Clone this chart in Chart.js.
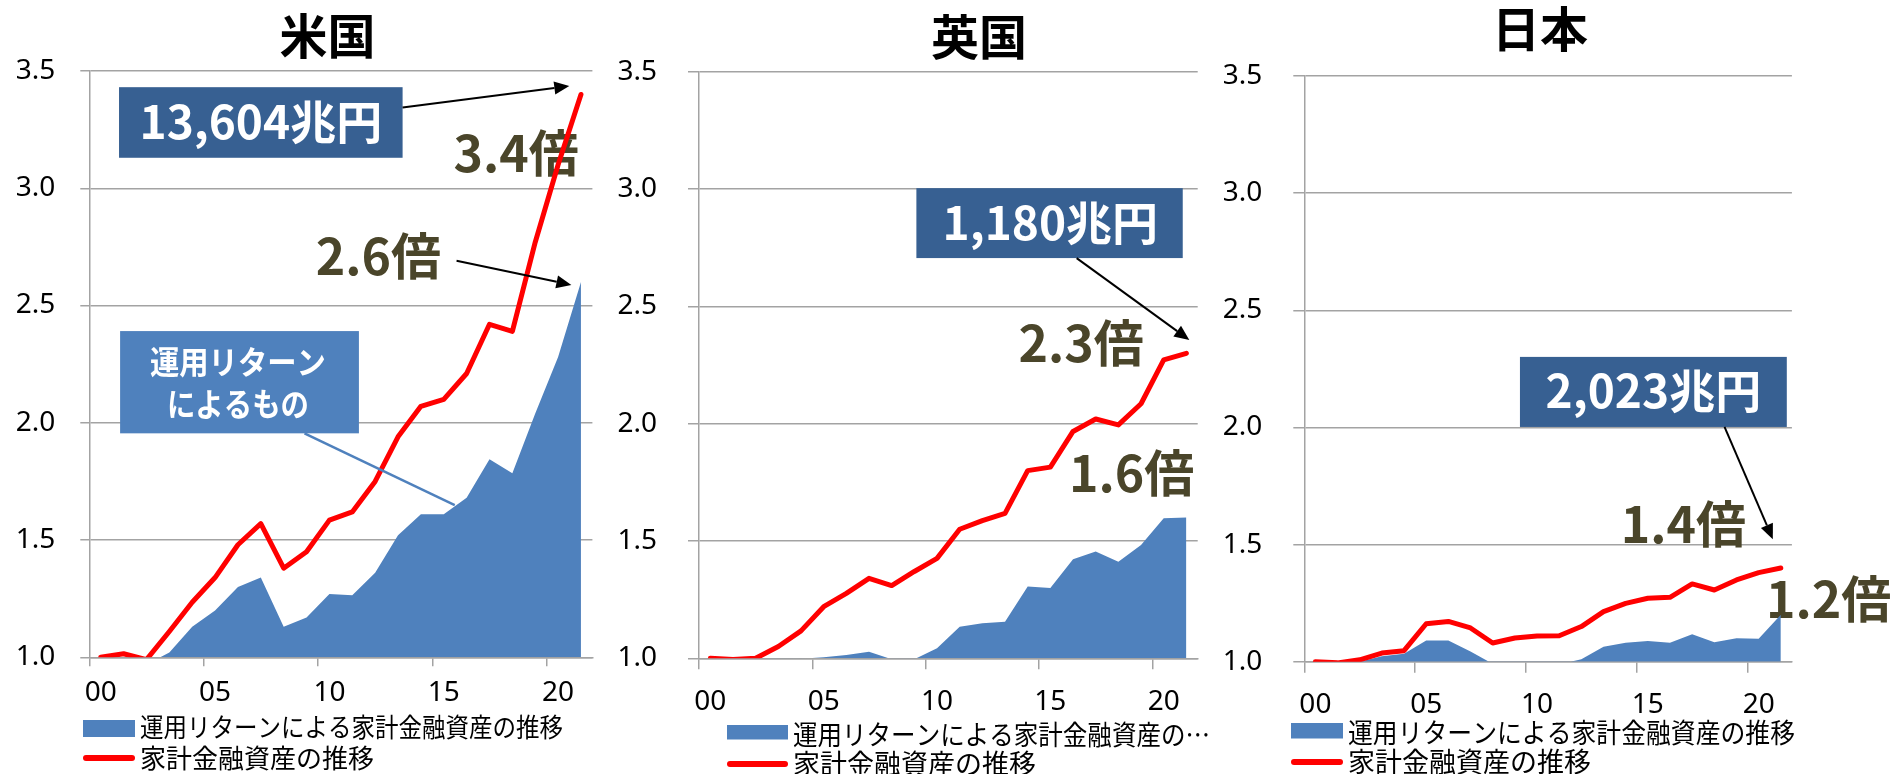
<!DOCTYPE html>
<html lang="ja">
<head>
<meta charset="utf-8">
<title>家計金融資産の推移（米国・英国・日本）</title>
<script src="https://cdn.jsdelivr.net/npm/chart.js@4.4.1/dist/chart.umd.min.js"></script>
<style>
  html, body { margin: 0; padding: 0; background: #fff; }
  #wrap { position: relative; width: 1893px; height: 774px; overflow: hidden; background: #fff; }
  #wrap canvas { position: absolute; left: 0; top: 0; }
</style>
</head>
<body>
<div id="wrap">
  <canvas id="us" width="1893" height="774"></canvas>
  <canvas id="uk" width="1893" height="774"></canvas>
  <canvas id="jp" width="1893" height="774"></canvas>
</div>
<script>
// ---- data (2000年 = 1.0) ----
const years = ['00','01','02','03','04','05','06','07','08','09','10',
               '11','12','13','14','15','16','17','18','19','20','21'];
const xTickLabels = ['00','05','10','15','20'];
const yTickValues = [1.0, 1.5, 2.0, 2.5, 3.0, 3.5];

const seriesNames = ['運用リターンによる家計金融資産の推移', '家計金融資産の推移'];
const countryNames = ['米国', '英国', '日本'];
const assetLabels = ['13,604兆円', '1,180兆円', '2,023兆円'];
const returnNote = ['運用リターン', 'によるもの'];

const usReturn = [1.00, 1.00, 0.97, 1.02, 1.13, 1.20, 1.30, 1.34, 1.13, 1.17, 1.27,
                  1.265, 1.36, 1.52, 1.61, 1.61, 1.68, 1.845, 1.785, 2.04, 2.28, 2.60];
const usTotal  = [1.00, 1.015, 0.99, 1.11, 1.235, 1.34, 1.48, 1.57, 1.38, 1.45, 1.585,
                  1.62, 1.75, 1.94, 2.07, 2.10, 2.21, 2.42, 2.39, 2.77, 3.10, 3.40];

const ukReturn = [1.00, 0.995, 0.995, 0.997, 0.998, 1.005, 1.014, 1.028, 0.996, 0.996, 1.043,
                  1.135, 1.149, 1.156, 1.306, 1.30, 1.422, 1.455, 1.412, 1.483, 1.597, 1.60];
const ukTotal  = [1.00, 0.995, 1.00, 1.05, 1.117, 1.22, 1.277, 1.341, 1.31, 1.37, 1.426,
                  1.55, 1.587, 1.618, 1.80, 1.815, 1.967, 2.02, 1.995, 2.085, 2.272, 2.30];

const jpReturn = [1.00, 0.995, 1.00, 1.023, 1.034, 1.09, 1.09, 1.044, 0.991, 0.989, 0.993,
                  0.989, 1.01, 1.064, 1.081, 1.088, 1.081, 1.117, 1.083, 1.10, 1.098, 1.20];
const jpTotal  = [1.00, 0.995, 1.008, 1.037, 1.047, 1.162, 1.172, 1.144, 1.08, 1.101, 1.11,
                  1.111, 1.15, 1.214, 1.249, 1.271, 1.275, 1.332, 1.306, 1.349, 1.38, 1.40];

// ---- styles ----
const GRID = '#a3a3a3';
const BLUE = '#4f81bd';
const RED = '#ff0000';
const NAVY = '#376092';
const OLIVE = '#4a452a';
const CJK = '"Noto Sans CJK JP", "Noto Sans", sans-serif';
const LATIN = '"Noto Sans", "Noto Sans CJK JP", sans-serif';
const PAGE_W = 1893, PAGE_H = 774;
const Y_AXIS_W = 86, X_AXIS_H = 60;

// ratio of the final year to 2000, as printed next to each series
const multiple = arr => arr[arr.length - 1].toFixed(1) + '倍';

// ---- drawing helpers for titles, callouts, arrows and the legend ----
function drawItems(chart, items) {
  const { ctx } = chart;
  const xs = chart.scales.x, ys = chart.scales.y;
  const X = v => xs.getPixelForValue(v);
  const Y = v => ys.getPixelForValue(v);
  ctx.save();
  for (const it of items) {
    if (it.type === 'box') {
      ctx.fillStyle = it.color;
      ctx.fillRect(X(it.x0), Y(it.y0), X(it.x1) - X(it.x0), Y(it.y1) - Y(it.y0));
    } else if (it.type === 'text') {
      ctx.font = `${it.bold ? 'bold ' : ''}${it.size}px ${it.family || CJK}`;
      ctx.fillStyle = it.color;
      ctx.textAlign = it.align || 'center';
      ctx.textBaseline = 'alphabetic';
      if (it.maxWidth) ctx.fillText(it.text, X(it.x), Y(it.y), it.maxWidth);
      else ctx.fillText(it.text, X(it.x), Y(it.y));
    } else if (it.type === 'line' || it.type === 'arrow') {
      const x1 = X(it.x0), y1 = Y(it.y0), x2 = X(it.x1), y2 = Y(it.y1);
      ctx.strokeStyle = it.color;
      ctx.fillStyle = it.color;
      ctx.lineWidth = it.width;
      ctx.lineCap = 'butt';
      let ex = x2, ey = y2;
      const ang = Math.atan2(y2 - y1, x2 - x1);
      if (it.type === 'arrow') {
        const hl = 15, hw = 6.5;
        ex = x2 - hl * Math.cos(ang);
        ey = y2 - hl * Math.sin(ang);
        ctx.beginPath();
        ctx.moveTo(x2, y2);
        ctx.lineTo(ex + hw * Math.sin(ang), ey - hw * Math.cos(ang));
        ctx.lineTo(ex - hw * Math.sin(ang), ey + hw * Math.cos(ang));
        ctx.closePath();
        ctx.fill();
      }
      ctx.beginPath();
      ctx.moveTo(x1, y1);
      ctx.lineTo(ex, ey);
      ctx.stroke();
    }
  }
  ctx.restore();
}

function drawLegend(chart, lg) {
  const { ctx } = chart;
  const [area, line] = chart.data.datasets;
  ctx.save();
  ctx.fillStyle = area.backgroundColor;
  ctx.fillRect(lg.swX, lg.swY, lg.swW, lg.swH);
  ctx.strokeStyle = line.borderColor;
  ctx.lineWidth = 6;
  ctx.lineCap = 'round';
  ctx.beginPath();
  ctx.moveTo(lg.swX + 3, lg.row2);
  ctx.lineTo(lg.swX + lg.swW - 3, lg.row2);
  ctx.stroke();
  ctx.font = `${lg.size}px ${CJK}`;
  ctx.fillStyle = '#000';
  ctx.textAlign = 'left';
  ctx.textBaseline = 'alphabetic';
  const first = lg.truncate ? area.label.slice(0, lg.truncate) + '…' : area.label;
  ctx.fillText(first, lg.textX, lg.row1 + 0.38 * lg.size, lg.maxWidth);
  ctx.fillText(line.label, lg.textX, lg.row2 + 0.38 * lg.size);
  ctx.restore();
}

function notesPlugin(panel) {
  return {
    id: 'notes_' + panel.id,
    beforeDatasetsDraw(chart) { drawItems(chart, panel.notes.filter(n => n.layer === 'under')); },
    afterDraw(chart) {
      drawItems(chart, panel.notes.filter(n => n.layer !== 'under'));
      drawLegend(chart, panel.legend);
    }
  };
}

// ---- one panel per country ----
function makeChart(panel) {
  const a = panel.area;
  const xGridColor = ctx =>
    (ctx.index !== undefined && ctx.index < years.length && ctx.index % 5 === 0) ? GRID : 'rgba(0,0,0,0)';
  return new Chart(document.getElementById(panel.id), {
    type: 'line',
    data: {
      labels: years,
      datasets: [
        {
          label: seriesNames[0],
          data: panel.returnData,
          fill: 'origin',
          backgroundColor: BLUE,
          borderColor: 'rgba(0,0,0,0)',
          borderWidth: 0,
          pointRadius: 0,
          tension: 0,
          order: 1
        },
        {
          label: seriesNames[1],
          data: panel.totalData,
          fill: false,
          borderColor: RED,
          borderWidth: 5,
          borderJoinStyle: 'round',
          borderCapStyle: 'round',
          pointRadius: 0,
          tension: 0,
          order: 0
        }
      ]
    },
    options: {
      responsive: false,
      maintainAspectRatio: false,
      devicePixelRatio: 1,
      animation: false,
      events: [],
      layout: {
        padding: {
          left: a.left - Y_AXIS_W,
          right: PAGE_W - a.right,
          top: a.top,
          bottom: PAGE_H - a.bottom - X_AXIS_H
        }
      },
      plugins: { legend: { display: false }, tooltip: { enabled: false }, title: { display: false } },
      scales: {
        x: {
          type: 'category',
          offset: true,
          grid: {
            offset: true,
            drawOnChartArea: false,
            drawTicks: true,
            tickLength: panel.tick,
            lineWidth: 1.5,
            color: xGridColor
          },
          border: { display: true, color: GRID, width: 1.5 },
          ticks: {
            autoSkip: false,
            maxRotation: 0,
            minRotation: 0,
            padding: panel.xPad,
            color: '#000',
            font: { family: LATIN, size: 28 },
            callback: (v, i) => xTickLabels.includes(years[i]) ? years[i] : ''
          },
          afterFit: s => { s.height = X_AXIS_H; }
        },
        y: {
          type: 'linear',
          min: yTickValues[0],
          max: yTickValues[yTickValues.length - 1],
          afterBuildTicks: s => { s.ticks = yTickValues.map(v => ({ value: v })); },
          grid: { color: GRID, lineWidth: 1.5, drawTicks: true, tickLength: panel.tick },
          border: { display: true, color: GRID, width: 1.5 },
          ticks: {
            padding: panel.yPad,
            color: '#000',
            font: { family: LATIN, size: 28 },
            callback: v => Number(v).toFixed(1)
          },
          afterFit: s => { s.width = Y_AXIS_W; }
        }
      }
    },
    plugins: [notesPlugin(panel)]
  });
}

// callout positions are given in chart units: x = year index, y = ratio
const panels = [
  {
    id: 'us', returnData: usReturn, totalData: usTotal,
    area: { left: 89.3, right: 592.4, top: 71, bottom: 657.3 },
    tick: 9, yPad: 25, xPad: 10,
    legend: { swX: 83, swY: 720, swW: 52, swH: 17, textX: 140, row1: 727, row2: 758, size: 26, maxWidth: 423 },
    notes: [
      { type: 'text', text: countryNames[0], x: 9.92, y: 3.572, size: 48, bold: true, color: '#000' },
      { type: 'text', layer: 'under', text: multiple(usTotal), x: 18.16, y: 3.071, size: 50, bold: true, color: OLIVE },
      { type: 'text', layer: 'under', text: multiple(usReturn), x: 12.14, y: 2.630, size: 50, bold: true, color: OLIVE },
      { type: 'box', x0: 0.80, x1: 13.20, y0: 3.431, y1: 3.130, color: NAVY },
      { type: 'text', text: assetLabels[0], x: 7.0, y: 3.209, size: 46, bold: true, color: '#fff' },
      { type: 'arrow', x0: 13.20, y0: 3.344, x1: 20.49, y1: 3.436, width: 2, color: '#000' },
      { type: 'arrow', x0: 15.56, y0: 2.691, x1: 20.58, y1: 2.588, width: 2, color: '#000' },
      { type: 'line', x0: 8.91, y0: 1.955, x1: 15.48, y1: 1.649, width: 2.5, color: BLUE },
      { type: 'box', x0: 0.847, x1: 11.29, y0: 2.391, y1: 1.955, color: BLUE },
      { type: 'text', text: returnNote[0], x: 6.0, y: 2.209, size: 32, bold: true, color: '#fff', maxWidth: 176 },
      { type: 'text', text: returnNote[1], x: 6.0, y: 2.028, size: 32, bold: true, color: '#fff', maxWidth: 142 }
    ]
  },
  {
    id: 'uk', returnData: ukReturn, totalData: ukTotal,
    area: { left: 699, right: 1197.7, top: 71.8, bottom: 658.3 },
    tick: 11, yPad: 31, xPad: 16,
    legend: { swX: 727, swY: 725, swW: 61, swH: 14.5, textX: 793, row1: 735, row2: 764, size: 27, maxWidth: 417, truncate: 16 },
    notes: [
      { type: 'text', text: countryNames[1], x: 11.85, y: 3.570, size: 48, bold: true, color: '#000' },
      { type: 'text', layer: 'under', text: multiple(ukTotal), x: 16.36, y: 2.265, size: 50, bold: true, color: OLIVE },
      { type: 'text', layer: 'under', text: multiple(ukReturn), x: 18.59, y: 1.710, size: 50, bold: true, color: OLIVE },
      { type: 'box', x0: 9.09, x1: 20.84, y0: 3.004, y1: 2.706, color: NAVY },
      { type: 'text', text: assetLabels[1], x: 15.0, y: 2.784, size: 46, bold: true, color: '#fff' },
      { type: 'arrow', x0: 16.16, y0: 2.706, x1: 21.13, y1: 2.357, width: 2, color: '#000' }
    ]
  },
  {
    id: 'jp', returnData: jpReturn, totalData: jpTotal,
    area: { left: 1304.3, right: 1791.9, top: 76, bottom: 661.7 },
    tick: 11, yPad: 31, xPad: 16,
    legend: { swX: 1291, swY: 723, swW: 52, swH: 15.5, textX: 1348, row1: 732.5, row2: 762, size: 27, maxWidth: 447 },
    notes: [
      { type: 'text', text: countryNames[2], x: 10.13, y: 3.625, size: 48, bold: true, color: '#000' },
      { type: 'text', layer: 'under', text: multiple(jpTotal), x: 16.60, y: 1.506, size: 50, bold: true, color: OLIVE },
      { type: 'text', layer: 'under', text: multiple(jpReturn), x: 23.16, y: 1.185, size: 50, bold: true, color: OLIVE },
      { type: 'box', x0: 9.23, x1: 21.27, y0: 2.301, y1: 2.002, color: NAVY },
      { type: 'text', text: assetLabels[2], x: 15.25, y: 2.083, size: 46, bold: true, color: '#fff' },
      { type: 'arrow', x0: 18.46, y0: 2.002, x1: 20.64, y1: 1.523, width: 2, color: '#000' }
    ]
  }
];

panels.forEach(makeChart);
</script>
</body>
</html>
